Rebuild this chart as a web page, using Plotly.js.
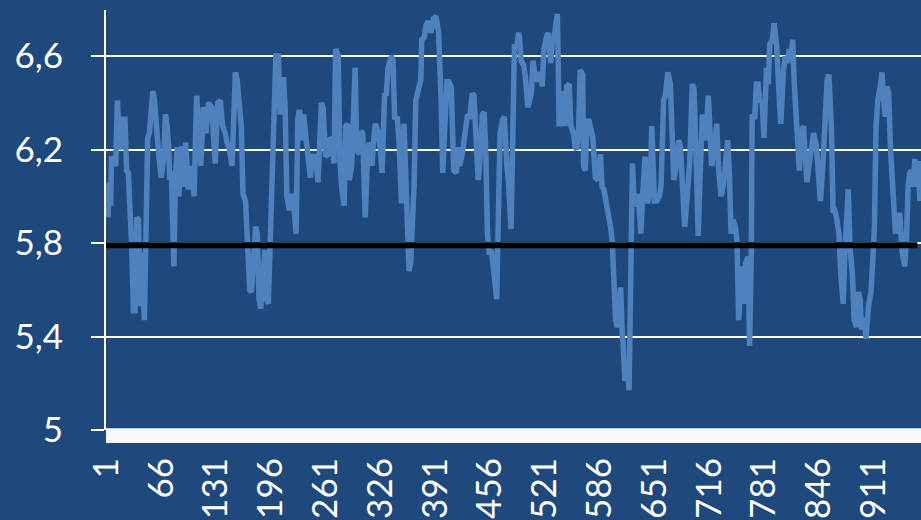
<!DOCTYPE html>
<html>
<head>
<meta charset="utf-8">
<script src="https://cdn.plot.ly/plotly-3.0.1.min.js"></script>
<style>
html,body{margin:0;padding:0;background:#1F497D;}
#chart{width:921px;height:520px;}
</style>
</head>
<body>
<div id="chart"></div>
<script>
// Series: observation index (category) and value
const idx = [
3,4,6,7,12,14,17,20,23,25,27,29,31,33,35,37,39,41,43,46,48,50,52,54,56,58,61,63,66,69,71,73,75,76,78,81,83,85,87,89,91,93,95,98,102,105,108,111,113,116,
117,119,122,126,130,133,136,139,142,144,147,150,152,154,156,159,161,163,166,168,171,173,176,178,180,182,184,186,189,191,193,195,197,199,202,205,207,209,211,213,215,218,221,224,226,228,230,233,235,238,
241,243,245,249,252,256,258,261,264,266,269,271,273,276,278,280,283,285,287,289,292,296,298,301,303,305,308,311,313,316,318,320,323,326,328,331,333,335,339,341,343,346,348,351,354,356,358,360,362,
364,366,368,371,374,375,378,380,383,386,389,392,395,398,400,402,405,407,410,413,416,418,420,423,426,429,432,435,437,439,442,444,447,449,451,453,455,458,460,462,464,466,468,471,473,476,478,481,483,485,488,
490,491,493,496,498,501,504,505,507,510,513,516,518,520,523,525,528,530,532,535,536,538,540,543,545,547,550,552,555,557,559,561,563,566,567,569,571,573,576,578,581,584,587,589,591,594,596,599,601,603,605,607,610,611,
613,614,616,619,621,623,625,627,630,632,635,637,640,643,646,648,651,654,657,659,662,664,667,670,672,674,677,680,682,685,687,691,693,696,698,700,703,705,708,710,712,715,717,719,722,725,727,730,733,736,738,
740,742,744,747,749,751,753,755,757,759,762,764,766,767,770,772,774,776,779,781,784,786,788,791,793,796,799,801,804,806,809,811,813,815,817,819,821,823,825,828,830,832,835,838,840,843,
846,848,851,853,856,858,861,863,865,867,870,872,875,877,879,881,883,886,888,891,893,895,897,900,902,905,908,910,912,914,916,919,921,923,925,927,929,931,933,935,937,939,940,942,945,948,950,952,954,956,958,960,962,964,966
];
const vals = [
5.91,6.06,5.96,6.17,6.13,6.41,6.20,6.33,6.33,6.11,6.10,5.98,5.78,5.51,5.51,5.91,5.90,5.53,5.76,5.47,5.84,6.25,6.27,6.40,6.45,6.41,6.23,6.18,6.08,6.17,6.35,6.30,6.20,6.07,6.11,5.70,6.10,6.21,6.00,6.20,6.21,6.04,6.23,6.03,6.13,6.00,6.43,6.21,6.13,6.38,
6.37,6.27,6.40,6.38,6.14,6.40,6.41,6.30,6.27,6.23,6.20,6.13,6.34,6.53,6.50,6.37,6.30,6.01,5.98,5.83,5.60,5.59,5.73,5.87,5.84,5.56,5.52,5.63,5.77,5.56,5.54,5.77,5.98,6.34,6.60,6.60,6.35,6.41,6.51,6.38,6.00,5.94,6.01,5.93,5.84,6.33,6.37,6.24,6.35,6.24,
6.10,6.08,6.17,6.17,6.06,6.40,6.38,6.17,6.18,6.25,6.24,6.14,6.63,6.60,6.16,6.04,5.96,6.30,6.31,6.07,6.13,6.55,6.20,6.18,6.28,6.27,5.91,6.20,6.23,6.13,6.24,6.31,6.28,6.20,6.10,6.44,6.43,6.55,6.60,6.58,6.33,6.34,6.24,5.97,6.31,6.04,5.80,5.68,5.72,
5.85,6.05,6.41,6.47,6.50,6.67,6.68,6.73,6.75,6.70,6.76,6.77,6.70,6.41,6.10,6.27,6.49,6.49,6.47,6.11,6.10,6.21,6.13,6.18,6.27,6.34,6.34,6.44,6.43,6.27,6.07,6.15,6.35,6.36,6.20,5.84,5.76,5.76,5.70,5.63,5.56,5.93,6.27,6.33,6.34,6.13,6.06,5.86,6.27,6.64,6.64,
6.70,6.68,6.58,6.56,6.51,6.38,6.43,6.44,6.58,6.50,6.50,6.53,6.47,6.63,6.68,6.70,6.57,6.67,6.68,6.78,6.78,6.31,6.31,6.45,6.30,6.47,6.48,6.30,6.27,6.21,6.20,6.27,6.54,6.52,6.13,6.11,6.30,6.33,6.27,6.25,6.08,6.07,6.18,6.04,6.03,5.98,5.93,5.87,5.81,5.56,5.47,5.44,5.60,5.61,
5.40,5.37,5.21,5.28,5.17,5.84,6.14,5.98,5.96,6.01,5.84,6.00,6.17,5.97,6.03,6.30,5.98,5.98,6.00,6.05,6.41,6.43,6.53,6.48,6.16,6.07,6.13,6.24,6.21,5.91,5.87,6.05,6.15,6.48,6.46,6.23,5.83,6.06,6.35,6.30,6.24,6.43,6.21,6.13,6.20,6.31,6.13,6.00,6.05,6.17,6.24,
6.10,5.84,5.90,5.87,5.81,5.47,5.59,5.70,5.54,5.71,5.74,5.36,5.76,6.35,6.33,6.48,6.48,6.41,6.40,6.25,6.55,6.48,6.65,6.67,6.74,6.65,6.43,6.31,6.53,6.60,6.57,6.63,6.58,6.67,6.48,6.37,6.21,6.11,6.27,6.30,6.17,6.06,6.15,6.25,6.27,6.22,
6.03,5.98,6.14,6.31,6.50,6.52,6.30,5.94,5.94,5.91,5.84,5.67,5.54,5.76,5.91,6.03,5.79,5.66,5.47,5.44,5.59,5.56,5.43,5.48,5.39,5.53,5.59,5.73,5.86,6.30,6.41,6.47,6.53,6.41,6.34,6.47,6.44,6.21,6.10,5.98,5.84,5.93,5.84,5.93,5.76,5.70,5.81,6.04,6.10,6.11,6.04,6.16,6.04,6.15,5.98
];
// Reference (threshold) line
const refIdx = [0, 963];
const refVal = [5.79, 5.79];
// Axis ticks
const xTickVals = [1,66,131,196,261,326,391,456,521,586,651,716,781,846,911];
const xTickText = ['1','66','131','196','261','326','391','456','521','586','651','716','781','846','911'];
const yTickVals = [5, 5.4, 5.8, 6.2, 6.6];
const yTickText = ['5','5,4','5,8','6,2','6,6'];

const bg = '#1F497D';
const font = {family: 'Lato, "Open Sans", sans-serif', size: 35, color: '#FFFFFF'};

const traces = [
  {x: idx, y: vals, type: 'scatter', mode: 'lines',
   line: {color: '#4F81BD', width: 5.5, shape: 'linear'}, hoverinfo: 'skip'},
  {x: refIdx, y: refVal, type: 'scatter', mode: 'lines',
   line: {color: '#000000', width: 6}, hoverinfo: 'skip'}
];

const layout = {
  width: 921, height: 520,
  margin: {l: 106, r: 0, t: 10, b: 90, pad: 0},
  paper_bgcolor: bg, plot_bgcolor: bg,
  showlegend: false,
  font: font,
  xaxis: {
    range: [0.5, 967.3], tickmode: 'array', tickvals: xTickVals, ticktext: xTickText,
    tickangle: -90, showgrid: false, zeroline: false, showline: false,
    ticks: '', tickfont: font, ticklabelstandoff: 20
  },
  yaxis: {
    range: [5, 6.797], tickmode: 'array', tickvals: yTickVals, ticktext: yTickText,
    showgrid: true, gridcolor: '#FFFFFF', gridwidth: 2, zeroline: false,
    showline: true, linecolor: '#FFFFFF', linewidth: 2,
    ticks: 'outside', ticklen: 13, tickwidth: 2, tickcolor: '#FFFFFF',
    tickfont: font, ticklabelstandoff: 21
  },
  shapes: [
    {type: 'rect', xref: 'paper', yref: 'paper', x0: 0, x1: 1, y0: -0.031, y1: 0.004,
     fillcolor: '#F8F8F8', line: {width: 0}, layer: 'above'}
  ]
};

Plotly.newPlot('chart', traces, layout, {staticPlot: true, displayModeBar: false});
</script>
</body>
</html>
